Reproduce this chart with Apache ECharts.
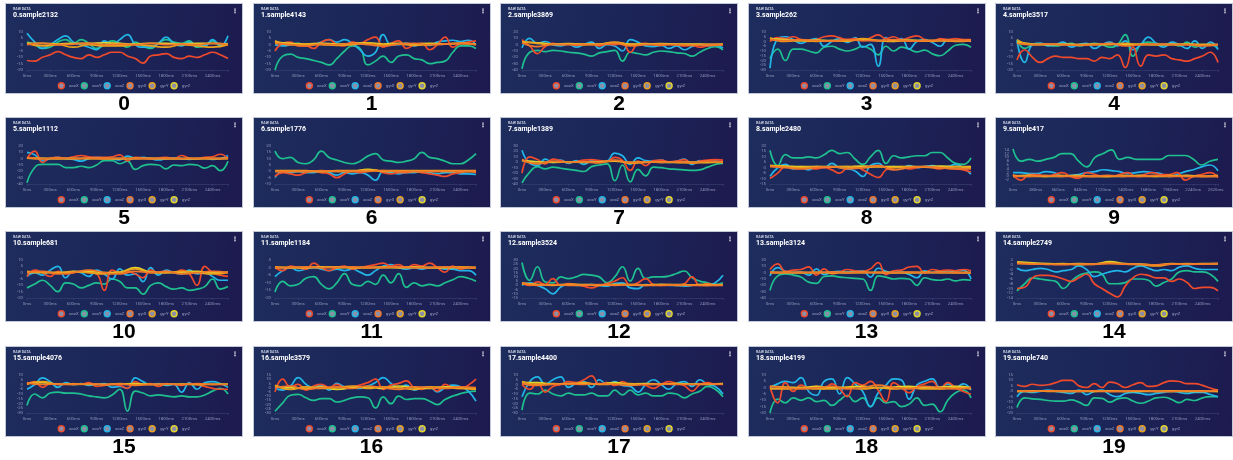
<!DOCTYPE html>
<html><head><meta charset="utf-8">
<script src="https://cdn.jsdelivr.net/npm/echarts@6/dist/echarts.min.js"></script>
<style>
html,body{margin:0;padding:0;background:#fff;width:1233px;height:460px;overflow:hidden;position:relative}
.panel{position:absolute;width:238px;height:91px;box-sizing:border-box;border:1px solid #c3c8d6;background:linear-gradient(100deg,#1d2d5d 0%,#1c2457 55%,#1d1a4f 100%)}
.chart{position:absolute;left:0;top:0;width:236px;height:89px}
.num{position:absolute;width:238px;text-align:center;font:bold 21px "Liberation Sans",Arial,sans-serif;color:#000;line-height:24px}
</style></head><body>
<script>
const titles = ['0.sample2132','1.sample4143','2.sample3869','3.sample262','4.sample3517','5.sample1112','6.sample1776','7.sample1389','8.sample2480','9.sample417','10.sample681','11.sample1184','12.sample3524','13.sample3124','14.sample2749','15.sample4076','16.sample3579','17.sample4400','18.sample4199','19.sample740'];
const yMin = [-20,-20,-40,-30,-20,-40,-10,-40,-15,-4,-20,-20,-15,-40,-14,-30,-30,-30,-20,-20];
const yMax = [10,10,20,10,10,20,20,30,20,16,10,5,30,20,2,10,15,10,10,15];
const yStep = [5,5,10,5,5,10,5,10,5,2,5,5,5,10,2,5,5,5,5,5];
const xMax = [2600,2600,2600,2600,2600,2600,2600,2600,2600,2550,2600,2600,2600,2600,2600,2600,2600,2600,2600,2600];
const xStep = [300,300,300,300,300,300,300,300,300,280,300,300,300,300,300,300,300,300,300,300];
const seriesNames = ['accX','accY','accZ','gyrX','gyrY','gyrZ'];

const p0_accX = [-12.5,-13,-10,-8,-5.5,-8,-10,-11,-8,-10,-8,-6,-6,-9,-11,-14.5,-9,-8,-7,-10,-11,-9,-10,-8,-6,-8,-11];
const p0_accY = [2,0,-3,-2,2,4,1,4,1,-3,0,3,1,-2,2,-1,-3,1,4,2,1,3,-2,-1,3,0,1];
const p0_accZ = [9,2,-3,0,4,7,2,0,-2,-4,3,0,4,8,0,-2,-2,1,6,1,-1,2,-1,-1,4,-1,7];
const p0_gyrX = [0,1,0,0.5,1,0,0.5,0,1,0,0.5,0,1,0];
const p0_gyrY = [1,-1,0,-2,0,-1,-1,0,-1,-2,0,-1,-2,0];
const p0_gyrZ = [1,1,0.5,1,1,1.5,1,0.5,1,1,0.5,1,1,0.5];

const p1_accX = [-5,1,2,-1,-1,-3,2,4,0,-1,2,1,4,6,-2,1,3,-3,0,1,-4,0,6,-2,1,2,3];
const p1_accY = [-20,-9,-7.5,-10,-11,-12.5,-14,-16,-11,-5,-1,-3,-16,-13,-9,-14,-9,-8,-11,-12,-15,-14,-13,-6,-1,-1,-3];
const p1_accZ = [0,-1,0,1,-1,0,2,4,2,4,1,-4,-9,-6,8,0,0,1,-1,0.5,-0.5,2,3,3.5,2.5,3.5,0];
const p1_gyrX = [1,0,-1,0.5,0,1,0,-1,0.5,1,0,0.5,1,0];
const p1_gyrY = [3,0,0.5,0,-0.5,0,1,0,0.5,-0.5,0,0.5,1,0];
const p1_gyrZ = [2,1,0.5,1,0.5,1,1.5,0.5,1,0.5,1,0.5,1,0.5];

const p2_accX = [8,-2,-14,-3,2,0,1,-1,0,1,-2,1,0,2,-12,1,2,0,-1,1,0,-2,-1,-4,-2,-1,0];
const p2_accY = [-38,-12,-9,-11,-9,-10,-12,-13,-15,-18,-13,-11,-9,-26,-12,-14,-16,-12,-10,-11,-13,-14,-18,-12,-6,-3,-8];
const p2_accZ = [-5,10,2,5,0,-2,1,-4,0,4,-6,0,-2,-10,8,4,-2,-3,-1,-6,-2,-8,-3,0,-2,-1,-5];
const p2_gyrX = [3,-3,1,0,0.5,0,2,-2,0,0.5,0,-1,0,0];
const p2_gyrY = [5,2,0,1,0,0.5,4,0,1,0,0.5,0,0,0];
const p2_gyrZ = [4,3,1,1.5,1,1,3,1,1,1.5,1,1,0.5,1];

const p3_accX = [0,4,3,5,2,0,2,5,6,4,2,3,1,4,7,3,5,2,4,6,2,0,3,2,3,2,2];
const p3_accY = [-18,-8,-20,-8,-8,-10,-12,-6,-5,-8,-10,-8,-5,-8,-14,-5,-10,-6,-8,-11,-9,-13,-15,-10,-4,-3,-6];
const p3_accZ = [-28,3,5,2,-2,1,3,-5,0,3,-1,4,-6,-3,-26,4,0,3,-8,0,2,-1,-5,2,0,1,0];
const p3_gyrX = [2,1,2,1,0.5,2,1,1,2,0.5,1,1.5,1,1];
const p3_gyrY = [4,0,1,0,1,0.5,3,1,0,1,0.5,1,0,1];
const p3_gyrZ = [3,2,1,1.5,1,1,2,1,1,1.5,1,1,1,1];

const p4_accX = [-12,-4,-10,-14,-11,-9,-10,-10,-11,-11,-13,-10,-11,-8,-18,-2,-17,-8,-9,-8,-11,-12,-13,-11,-9,-6,-14];
const p4_accY = [4,-3,0,1,0,-1,0,1,-1,0,1,0,-2,0,8,-9,0,2,1,0,1,-1,2,-2,0,0,-3];
const p4_accZ = [3,-14,0,1,-1,0,2,-2,0,1,-3,0,2,-1,3,-4,0,6,1,-2,2,0,-3,3,-3,2,-4];
const p4_gyrX = [1,0,0.5,0,-0.5,0,1,-1,0,0.5,0,0,-1,0];
const p4_gyrY = [4,0,0.5,0,0,0.5,0,1,0,0,0.5,0,0,0];
const p4_gyrZ = [2,0.5,0,0.5,0,0,0.5,0,0.5,0,0,0.5,0,0];

const p5_accX = [0,12,-6,1,2,1,3,5,3,2,2,3,6,-3,2,1,0,1,2,0,5,1,0,2,3,7,0];
const p5_accY = [-38,-14,-9,-9,-9,-14,-14,-12,-14,-10,-3,-3,-8,-4,-17,-11,-9,-10,-16,-10,-11,-9,-10,-15,-11,-19,-4];
const p5_accZ = [10,6,-4,0,2,0,-1,-4,0,2,1,0,-2,4,1,2,0,-2,0,1,0,-1,0,1,-1,0,5];
const p5_gyrX = [2,0,0.5,0,1,0,0.5,0,0,0.5,0,0.5,0,1];
const p5_gyrY = [1,0,0,0.5,0,0,0,0.5,0,0,0,0,0.5,0];
const p5_gyrZ = [1,0.5,0,0,0.5,0,0,0,0.5,0,0,0,0,0.5];

const p6_accX = [-4,-1,-2,-3,-1,0,-1,-2,-5,-2,0,-1,0,1,-1,-2,-1,-1,0,-1,-2,-3,-4,-2,-1,0,-1];
const p6_accY = [16,10,11,7,6,9,16,11,9,7,6,8,12,14,9,8,7,8,10,15,11,10,8,6,6,9,14];
const p6_accZ = [-5,0,-1,0,-1,-1,0,-1,-3,-1,-2,-1,-3,-7,0,-1,-2,-1,-1,0,-1,-2,-1,-1,-2,-2,-2.5];
const p6_gyrX = [0,0,0,0.5,0,0,0,0.5,0,0,0,0,0,0];
const p6_gyrY = [0.5,0.5,0.5,0,0.5,0.5,1,0.5,0.5,0.5,0.5,0.5,0.5,0.5];
const p6_gyrZ = [0,0,0,0,0,0,1.5,0,0,0,0,0,0,0];

const p7_accX = [-20,10,5,-3,6,3,0,1,4,5,3,2,9,3,-15,2,-6,3,4,1,2,5,-2,2,4,5,4];
const p7_accY = [-38,-18,-8,-12,-9,-11,-13,-15,-17,-8,-5,-3,-34,-5,-36,-13,-25,-9,-10,-12,-13,-14,-15,-14,-9,-4,-2];
const p7_accZ = [22,-2,-6,6,0,4,-2,3,-4,3,0,2,17,12,-4,8,3,2,4,0,2,6,-4,3,0,2,1];
const p7_gyrX = [5,-3,2,0,1,-1,4,0,1,0,1,0,2,0];
const p7_gyrY = [4,-2,1,0,0.5,0,3,-2,0,1,0,-1,0,1];
const p7_gyrZ = [3,1,0,0.5,0,1,2,0,0.5,0,0,0.5,0,0];

const p8_accX = [-10,-5,1,0,1,0,-1,0,-2,-5,0,1,-2,-6,-9,-2,0,1,-1,0,1,0,-1,0,-1,-2,-4];
const p8_accY = [16,2,12,9,9,10,9,12,16,13,14,8,3,10,16,4,11,9,10,11,11,14,14,9,4,3,9];
const p8_accZ = [-8,0,3,-1,0,-2,1,0,4,0,-1,-3,-8,2,4,0,1,0,2,0,1,2,0,1,3,0,-6];
const p8_gyrX = [1,0,-1,0,1,-1,0,2,-2,0,1,0,-1,-1];
const p8_gyrY = [2,1,0,1,0.5,1,0,1,0,1,0.5,0,1,0];
const p8_gyrZ = [2,1.5,1,1,1,1,1.5,1,1,1,1,1.5,1,1];

const p9_accX = [1,-2,1,1,0,1,2,0,-1,2,1,0,0,1,2,0,1,2,1,1,2,-2,0,1,2,-0.5];
const p9_accY = [14.5,8,9,8,9,10,12,12,8,5,10,12,14,9,10,9,9,9,9,11,11,11,9,6,8,9];
const p9_accZ = [2,2,1.5,1.5,2.5,2,0,0.5,1,2,2.5,3.5,3,2.5,1.5,2,2.5,2,1.5,0,1,2.5,3.5,5,6,3];
const p9_gyrX = [0,0,0.5,0,0,0,0.5,0,0,0.5,0,0,0,0];
const p9_gyrY = [0.5,0,0,0.5,0,0,0,0.5,0,0,0.5,0,0,0.5];
const p9_gyrZ = [0,0.5,0,0,0.5,0,0,0,0.5,0,0,0.5,0,0];

const p10_accX = [-3,2,0,-3,1,-1,0,1,0,-1,-14,2,0,1,-1,-4,2,0,1,0,2,-1,-10,5,0,-2,-3];
const p10_accY = [-12,-9,-6,-10,-15,-8,-9,-12,-10,-8,-9,-5,-7,-12,-12,-17,-10,-8,-11,-13,-12,-14,-13,-11,-5,-13,-11];
const p10_accZ = [-3,0,-2,2,5,-4,1,0,-3,2,-1,-5,3,-2,-1,-7,4,-2,2,0,-1,2,-1,0,-3,-6,-6];
const p10_gyrX = [0,1,-1,0,2,0,-1,1,0,1,-1,0,1,0];
const p10_gyrY = [1,0,0,1,0,-1,0,3,0,0,1,0,-1,0];
const p10_gyrZ = [0,0.5,0,0.5,1,0,0.5,4,0.5,0,0.5,1,0,0.5];

const p11_accX = [0,-2,1,0,-1,3,0,-2,0,1,-1,0,1,2,3,1,2,0,2,1,3,0,-3,1,-1,0,0];
const p11_accY = [-16,-9,-12,-11,-7,-6,-11,-14,-10,-4,-11,-12,-9,-11,-5,-10,-4,-13,-10,-12,-11,-12,-10,-8,-6,-7,-9];
const p11_accZ = [-6,-2,0,-2,-1,0,-1,-2,-1,-2,-1,-3,-5,-2,1,2,0,-1,0,-1,0,0,-1,-1,-2,-2,-5];
const p11_gyrX = [0,0,0.5,0,0,0.5,0,0,0.5,0,0,0.5,0,0];
const p11_gyrY = [0.5,0,0,0,0.5,0,0,0.5,0,0,0,0,0.5,0];
const p11_gyrZ = [0,0,0,0.5,0,0,0,0,0,0.5,0,0,0,0];

const p12_accX = [3,0,4,1,8,0,2,1,-1,-3,0,2,5,9,0,3,8,1,0,1,0,2,10,0,2,0,1];
const p12_accY = [27,6,22,4,3,10,8,10,13,12,10,3,10,22,5,20,8,10,10,11,14,17,9,5,3,1,3];
const p12_accZ = [0,3,0,-4,-10,-2,1,0,0,1,0,-1,2,3,-3,-4,1,0,1,0,0,-1,0,1,0,3,12];
const p12_gyrX = [2,0,1,0,0,1,0,1,0,0,0.5,0,0,0];
const p12_gyrY = [3,1,0,1,0.5,0,1,0.5,0,1,0,0.5,0,0.5];
const p12_gyrZ = [2,1,0.5,1,1,0.5,1,1,0.5,1,1,0.5,1,0.5];

const p13_accX = [5,14,2,4,5,9,-4,6,-2,1,5,3,2,6,16,-3,3,4,9,10,0,5,3,4,3,5,3];
const p13_accY = [-28,-5,-2,-4,-7,-15,-17,-6,-5,-7,-8,-9,-10,-28,-5,-7,-10,-9,-10,-20,-8,-11,-12,-10,-13,-11,-12];
const p13_accZ = [-5,8,2,0,1,-4,6,-3,1,2,1,2,3,-7,7,2,0,1,-3,-8,3,0,2,1,3,4,-10];
const p13_gyrX = [1,0,0.5,0,1,0,0.5,0,0,1,0,0.5,0,0];
const p13_gyrY = [0,0.5,0,0,0.5,0,0,0.5,0,0,0,0.5,0,0];
const p13_gyrZ = [0.5,0,0,0.5,0,0,0.5,0,0,0,0.5,0,0,0];

const p14_accX = [-10,-9.5,-5.5,-4.5,-4.5,-5,-6,-7,-5.5,-4,-8,-10,-12,-13.5,-9,-5.5,-4,-4.5,-5.5,-5.5,-7,-6,-7.5,-10,-9.5,-9.5,-11];
const p14_accY = [-11,-8,-5.5,-6,-6.5,-7,-10,-7,-4.5,-3.5,-3,-4,-8,-8,-7.5,-6,-6,-6.5,-9,-7.5,-6,-3,-2.5,-3,-3,-4,-7];
const p14_accZ = [-1.5,-2.5,-2,-1.5,-2,-3,-2.5,-2,-0.5,-2,-5,-4,-3,-2.5,-3,-1.5,-0.5,-1.5,-2.5,-2,-2.5,-1,-0.5,-1.5,-2,-2,-2];
const p14_gyrX = [0.5,0.3,0.2,0,0.3,0.2,0.5,0.3,0.2,0,0.3,0.2,0.3,0.5];
const p14_gyrY = [1,0.5,0.2,0.5,0,0.3,0.8,0.3,0,-0.5,0.3,0.5,0.3,0.5];
const p14_gyrZ = [1.2,0.8,0.5,0.3,0.5,0.3,1.3,0.5,0.3,-0.2,0.5,0.3,0.5,0.5];

const p15_accX = [0,3,-3,1,0,0,1,0,2,-2,-1,0,-1,-4,3,0,1,-2,1,0,-1,1,0,-2,-4,-5,-5];
const p15_accY = [-22,-10,-14,-9,-8,-9,-9,-10,-12,-13,-14,-11,-5,-28,-7,-9,-12,-11,-12,-13,-12,-13,-13,-11,-7,-4,-10];
const p15_accZ = [-5,0,7,3,-3,2,0,1,-1,0,1,-3,-2,-4,7,3,0,1,-1,0,-8,2,-5,2,3,1,-3];
const p15_gyrX = [2,0,0.5,0,1,0,0.5,-1,0,0.5,0,1,0,0];
const p15_gyrY = [1,3,0,0.5,0,0,1,0,0,0.5,0,0,0.5,0];
const p15_gyrZ = [1,2,0.5,0,0.5,0,0.5,1,0,0,0.5,0,0,0.5];

const p16_accX = [-5,10,1,4,-3,2,4,0,4,0,1,3,6,10,-2,3,5,8,0,-2,1,-4,4,0,-1,3,10];
const p16_accY = [-28,-18,-9,-8,-12,-15,-13,-13,-17,-15,-12,-11,-12,-24,-11,-19,-10,-14,-13,-13,-16,-20,-14,-10,-7,-5,-4];
const p16_accZ = [0,-3,2,12,4,0,3,-3,5,1,0,-1,2,6,12,5,0,3,-3,0,1,-5,0,3,1,-4,-16];
const p16_gyrX = [0,2,-2,0,1,-1,2,0,-2,1,0,-1,1,0];
const p16_gyrY = [3,-2,1,-1,0,2,-1,1,0,-2,1,0,-1,-2];
const p16_gyrZ = [2,0,-1,1,-2,0,1,-1,2,0,-1,1,0,-1];

const p17_accX = [0,-5,2,-8,-2,0,3,2,5,9,0,2,-1,3,0,1,-1,-4,0,3,1,-1,-7,0,2,0,1];
const p17_accY = [-27,-9,-10,-6,-10,-12,-9,-11,-11,-9,-12,-12,-6,-11,-6,-11,-9,-12,-12,-9,-10,-14,-10,-7,-2,-5,-13];
const p17_accZ = [-13,3,8,0,5,8,-3,1,3,-3,5,0,3,-1,-2,-8,0,5,0,-5,1,3,-2,5,0,-2,-10];
const p17_gyrX = [1,-1,0,0.5,0,1,0,-1,0,0.5,0,0,1,0];
const p17_gyrY = [3,0,1,0,2,0,0.5,1,0,0,1,0,0,0.5];
const p17_gyrZ = [2,2,0.5,1,1,0.5,2,0.5,1,0.5,1,0.5,0.5,1];

const p18_accX = [1,-12,4,-3,2,0,1,-1,3,-1,-7,4,2,5,-2,-11,4,0,-4,1,3,5,-1,4,0,-3,-5];
const p18_accY = [-20,-9,-12,-8,-10,-8,-11,-10,-14,-10,-6,-11,-8,-15,-8,-12,-11,-15,-13,-8,-14,-13,-19,-10,-4,-2,-8];
const p18_accZ = [0,3,5,4,8,-3,-6,5,7,-5,8,3,-3,-15,-4,2,7,6,-9,2,5,7,0,3,0,3,-2];
const p18_gyrX = [1,0,-1,0,1,-1,0,2,0,-1,1,0,-1,0];
const p18_gyrY = [-1,-1,0,-1,-1,0,-1,0,-1,0,-1,-1,0,-1];
const p18_gyrZ = [1,0.5,0,1,0,0.5,1,0,0.5,1,0,0.5,1,0];

const p19_accX = [6,4.5,6.5,5.5,6,8,10,10,5,3.5,7,3.5,8.5,7,3.5,6,8,4.5,5,8,9.5,9,7,7,5.5,3,1];
const p19_accY = [-15,-6,-7,-7.5,-8.5,-9,-9,-8,-10,-13,-6,-6.5,-10,-7,-6,-9,-11,-9,-6,-5.5,-7.5,-10.5,-7.5,-8.5,-6,-5,-5];
const p19_accZ = [-5,0,-1,0,1,0,-1,-2,1,-3,0,1,-3,-5,-2,-1,-2,-3,-2,-1,0,-1,-2,-1,-1,-3,-5];
const p19_gyrX = [0.5,0,0.5,0,0,0.5,0,0,0.5,0,0,0.5,0,1];
const p19_gyrY = [0,0.5,0,0,0.5,0,0,0,0.5,0,0,0,0.5,0];
const p19_gyrZ = [0,0,0.5,0,0,0,0.5,0,0,0,0.5,0,0,0];

const panelSeries = [
  [p0_accX,p0_accY,p0_accZ,p0_gyrX,p0_gyrY,p0_gyrZ],
  [p1_accX,p1_accY,p1_accZ,p1_gyrX,p1_gyrY,p1_gyrZ],
  [p2_accX,p2_accY,p2_accZ,p2_gyrX,p2_gyrY,p2_gyrZ],
  [p3_accX,p3_accY,p3_accZ,p3_gyrX,p3_gyrY,p3_gyrZ],
  [p4_accX,p4_accY,p4_accZ,p4_gyrX,p4_gyrY,p4_gyrZ],
  [p5_accX,p5_accY,p5_accZ,p5_gyrX,p5_gyrY,p5_gyrZ],
  [p6_accX,p6_accY,p6_accZ,p6_gyrX,p6_gyrY,p6_gyrZ],
  [p7_accX,p7_accY,p7_accZ,p7_gyrX,p7_gyrY,p7_gyrZ],
  [p8_accX,p8_accY,p8_accZ,p8_gyrX,p8_gyrY,p8_gyrZ],
  [p9_accX,p9_accY,p9_accZ,p9_gyrX,p9_gyrY,p9_gyrZ],
  [p10_accX,p10_accY,p10_accZ,p10_gyrX,p10_gyrY,p10_gyrZ],
  [p11_accX,p11_accY,p11_accZ,p11_gyrX,p11_gyrY,p11_gyrZ],
  [p12_accX,p12_accY,p12_accZ,p12_gyrX,p12_gyrY,p12_gyrZ],
  [p13_accX,p13_accY,p13_accZ,p13_gyrX,p13_gyrY,p13_gyrZ],
  [p14_accX,p14_accY,p14_accZ,p14_gyrX,p14_gyrY,p14_gyrZ],
  [p15_accX,p15_accY,p15_accZ,p15_gyrX,p15_gyrY,p15_gyrZ],
  [p16_accX,p16_accY,p16_accZ,p16_gyrX,p16_gyrY,p16_gyrZ],
  [p17_accX,p17_accY,p17_accZ,p17_gyrX,p17_gyrY,p17_gyrZ],
  [p18_accX,p18_accY,p18_accZ,p18_gyrX,p18_gyrY,p18_gyrZ],
  [p19_accX,p19_accY,p19_accZ,p19_gyrX,p19_gyrY,p19_gyrZ]
];

const colors = ['#f04a2c','#1fc08f','#22b6e8','#f0762a','#eaa21c','#e2d62a'];
const zOrder = [5,3,4,8,7,6];
const rowTops = [3,117,231,346];

function toPoints(arr, xmax){
  const n = arr.length;
  return arr.map((v,i)=>[i*xmax/(n-1), v]);
}

for (let k = 0; k < 20; k++) {
  const r = Math.floor(k/5), c = k%5;
  const left = 5 + c*247.5, top = rowTops[r];
  const panel = document.createElement('div');
  panel.className = 'panel';
  panel.style.left = left + 'px';
  panel.style.top = top + 'px';
  const cdiv = document.createElement('div');
  cdiv.className = 'chart';
  panel.appendChild(cdiv);
  document.body.appendChild(panel);
  const num = document.createElement('div');
  num.className = 'num';
  num.style.left = left + 'px';
  num.style.top = (top + 88) + 'px';
  num.textContent = String(k);
  document.body.appendChild(num);

  const labLen = Math.max(String(yMin[k]).length, String(yMax[k]).length);
  const gridLeft = labLen >= 3 ? 21 : 17;
  const xs = xStep[k];
  const chart = echarts.init(cdiv, null, {renderer:'canvas'});
  chart.setOption({
    animation: false,
    backgroundColor: 'transparent',
    graphic: [
      {type:'text', left:7, top:3, style:{text:'RAW DATA', fill:'#c3c8dc', font:'bold 3.6px Roboto, sans-serif'}},
      {type:'text', left:7, top:8, style:{text:titles[k], fill:'#ffffff', font:'bold 7px Roboto, sans-serif'}},
      {type:'text', right:4, top:4, style:{text:'\u22EE', fill:'#ffffff', font:'bold 6px "DejaVu Sans", sans-serif'}}
    ],
    grid: {left: gridLeft, right: 14, top: 28, height: 38},
    legend: {
      left: 'center', top: 78, padding: 0, icon: 'circle', itemWidth: 6, itemHeight: 6, itemGap: 2,
      textStyle: {fontSize: 4.2, color: '#9aa0c2', fontFamily: 'Roboto, sans-serif'},
      data: seriesNames.map((n,i)=>({name:n, itemStyle:{color:'#8d8fa8', borderColor: colors[i], borderWidth:1.4}}))
    },
    xAxis: {
      type: 'value', min: 0, max: xMax[k], interval: xs,
      axisLine: {onZero:false, lineStyle:{color:'#3a4373', width:0.6}},
      axisTick: {show:true, length:2, lineStyle:{color:'#3a4373', width:0.6}},
      splitLine: {show:false},
      axisLabel: {fontSize: 4.3, color: '#8e95b8', margin: 4, fontFamily:'Roboto, sans-serif',
        formatter: v => (v % xs === 0 ? v + 'ms' : '')}
    },
    yAxis: {
      type: 'value', min: yMin[k], max: yMax[k], interval: yStep[k],
      axisLine: {show:false}, axisTick: {show:false}, splitLine: {show:false},
      axisLabel: {fontSize: 4.3, color: '#8e95b8', margin: 4, fontFamily:'Roboto, sans-serif'}
    },
    series: seriesNames.map((n,i)=>({
      name: n, type: 'line', smooth: true, showSymbol: false, symbol: 'none', z: zOrder[i],
      lineStyle: {width: 1.7, color: colors[i]},
      itemStyle: {color: colors[i]},
      data: toPoints(panelSeries[k][i], xMax[k])
    }))
  });
}
</script>
</body></html>
